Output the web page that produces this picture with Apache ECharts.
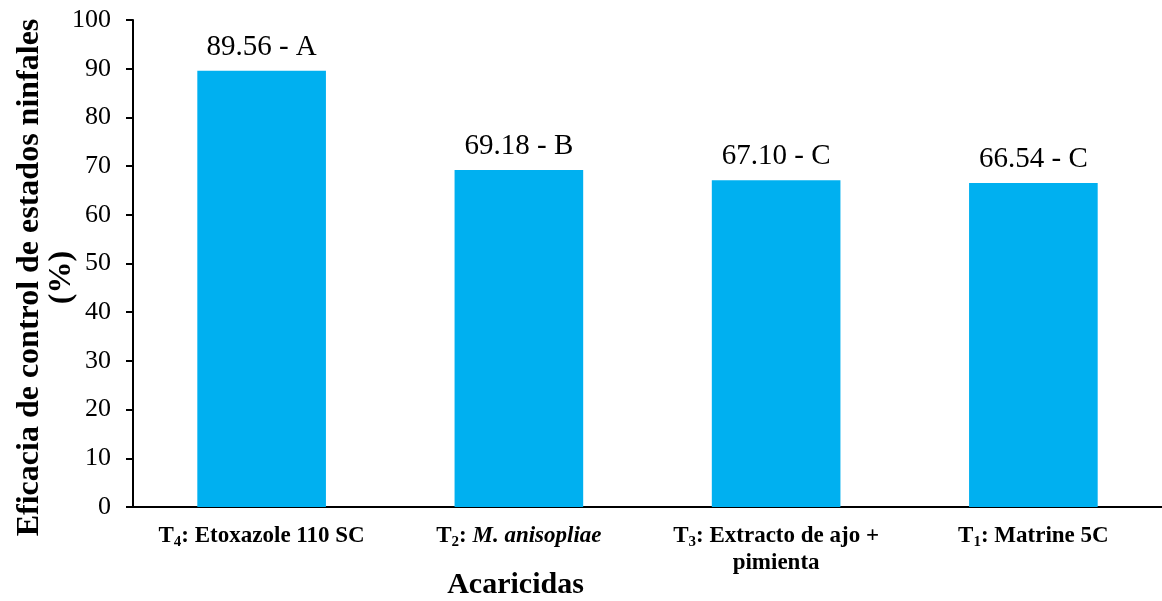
<!DOCTYPE html>
<html><head><meta charset="utf-8">
<script src="https://cdn.jsdelivr.net/npm/echarts@6/dist/echarts.min.js"></script>
<style>html,body{margin:0;padding:0;background:#fff}#c{width:1162px;height:601px}</style>
</head><body><div id="c"></div>
<script>
const categories = ['T4: Etoxazole 110 SC', 'T2: M. anisopliae', 'T3: Extracto de ajo +\npimienta', 'T1: Matrine 5C'];
const values = [89.56, 69.18, 67.10, 66.54];
const letters = ['A', 'B', 'C', 'C'];
const yTicks = [0, 10, 20, 30, 40, 50, 60, 70, 80, 90, 100];

const richCat = [
  '{b|T}{s|4}{b|: Etoxazole 110 SC}',
  '{b|T}{s|2}{b|: }{i|M. anisopliae}',
  '{b|T}{s|3}{b|: Extracto de ajo +}\n{b|pimienta}',
  '{b|T}{s|1}{b|: Matrine 5C}'
];
const font = '"Liberation Serif", "Times New Roman", serif';
const chart = echarts.init(document.getElementById('c'), null, {renderer: 'canvas'});
chart.setOption({
  animation: false,
  grid: {left: 133, right: 0, top: 20, bottom: 94, containLabel: false, outerBoundsMode: 'none'},
  xAxis: {
    type: 'category',
    data: categories,
    name: 'Acaricidas',
    nameLocation: 'middle',
    nameGap: 63,
    nameMoveOverlap: false,
    nameTextStyle: {fontFamily: font, fontWeight: 'bold', fontSize: 30, color: '#000', padding: [0, 264, 0, 0]},
    axisLine: {lineStyle: {color: '#000', width: 2}},
    axisTick: {show: false},
    axisLabel: {
      interval: 0, margin: 16, color: '#000',
      formatter: (v, i) => richCat[i],
      rich: {
        b: {fontFamily: font, fontWeight: 'bold', fontSize: 23, color: '#000', lineHeight: 27},
        i: {fontFamily: font, fontWeight: 'bold', fontStyle: 'italic', fontSize: 23, color: '#000', lineHeight: 27},
        s: {fontFamily: font, fontWeight: 'bold', fontSize: 15, color: '#000', lineHeight: 23, verticalAlign: 'bottom'}
      }
    }
  },
  yAxis: {
    type: 'value', min: 0, max: 100, interval: 10,
    name: 'Eficacia de control de estados ninfales\n(%)',
    nameLocation: 'middle',
    nameGap: 55,
    nameMoveOverlap: false,
    nameTextStyle: {fontFamily: font, fontWeight: 'bold', fontSize: 32, color: '#000', lineHeight: 32, padding: [0, 28, 0, 0]},
    axisLine: {show: true, lineStyle: {color: '#000', width: 2}},
    axisTick: {show: true, length: 7, lineStyle: {color: '#000', width: 2}},
    axisLabel: {color: '#000', fontFamily: font, fontSize: 26, margin: 22,
      formatter: v => yTicks.includes(v) ? String(v) : ''},
    splitLine: {show: false}
  },
  series: [{
    type: 'bar',
    data: values,
    barWidth: '50%',
    itemStyle: {color: '#00B0F0'},
    label: {
      show: true, position: 'top', distance: 9,
      fontFamily: font, fontSize: 29, color: '#000',
      formatter: p => p.value.toFixed(2) + ' - ' + letters[p.dataIndex]
    }
  }]
});
</script></body></html>
